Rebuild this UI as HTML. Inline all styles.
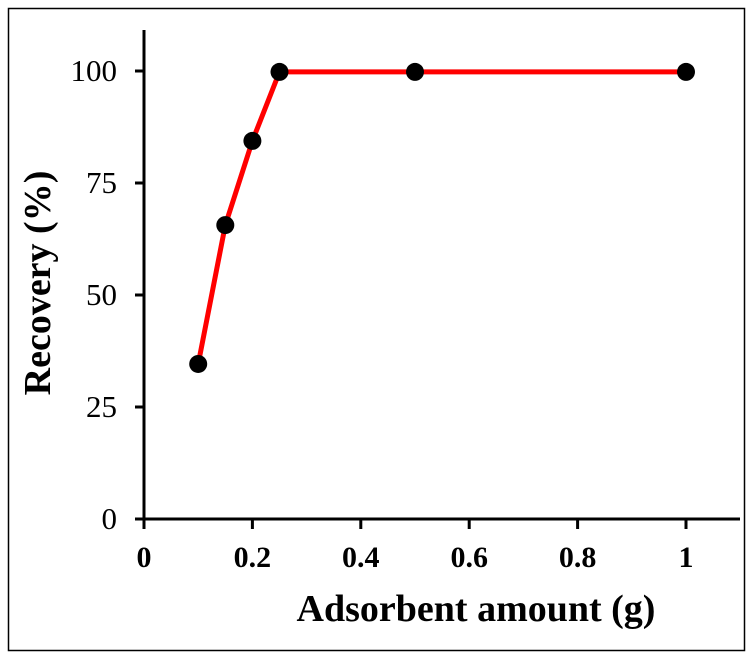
<!DOCTYPE html>
<html><head><meta charset="utf-8"><style>
html,body{margin:0;padding:0;background:#fff;width:751px;height:657px;overflow:hidden}
svg text{font-family:"Liberation Serif",serif;fill:#000}
</style></head><body>
<svg width="751" height="657">
<rect x="8.5" y="8.5" width="736" height="642" fill="none" stroke="#000" stroke-width="1.5"/>
<g id="plot"></g>
</svg>
<script>
const xValues=[0.1,0.15,0.2,0.25,0.5,1];
const recovery=[34.6,65.6,84.4,99.8,99.8,99.8];
const xTicks=[0,0.2,0.4,0.6,0.8,1];
const xTickLabels=["0","0.2","0.4","0.6","0.8","1"];
const yTicks=[0,25,50,75,100];
const yTickLabels=["0","25","50","75","100"];
const NS="http://www.w3.org/2000/svg";
const g=document.getElementById('plot');
const X=v=>144+v*542, Y=v=>519-v*4.48;
function mk(t,a,txt){const e=document.createElementNS(NS,t);for(const k in a)e.setAttribute(k,a[k]);if(txt!=null)e.textContent=txt;g.appendChild(e);return e;}
let e=mk('line',{x1:144,y1:30,x2:144,y2:519,stroke:'#000','stroke-width':3});


e=mk('line',{x1:135,y1:519,x2:740,y2:519,stroke:'#000','stroke-width':3});


xTicks.forEach((t,i)=>{
 e=mk('line',{x1:X(t),y1:519,x2:X(t),y2:529,stroke:'#000','stroke-width':3});
 
 
 e=mk('text',{x:X(t),y:567,'text-anchor':'middle','font-size':30,'font-weight':'bold'},xTickLabels[i]);
 
 
});
yTicks.forEach((t,i)=>{
 e=mk('line',{x1:135,y1:Y(t),x2:144,y2:Y(t),stroke:'#000','stroke-width':3});
 
 
 e=mk('text',{x:117,y:Y(t)+10,'text-anchor':'end','font-size':31},yTickLabels[i]);
 
 
});
e=mk('polyline',{points:xValues.map((v,i)=>X(v)+','+Y(recovery[i])).join(' '),fill:'none',stroke:'#ff0000','stroke-width':5,'stroke-linejoin':'round'});


xValues.forEach((v,i)=>{
 e=mk('circle',{cx:X(v),cy:Y(recovery[i]),r:9,fill:'#000'});
 
 
});
e=mk('text',{x:476,y:621,'text-anchor':'middle','font-size':38,'font-weight':'bold'},'Adsorbent amount (g)');


e=mk('text',{x:0,y:0,'text-anchor':'middle','font-size':38,'font-weight':'bold',transform:'translate(50,283) rotate(-90)'},'Recovery (%)');


</script>
</body></html>
